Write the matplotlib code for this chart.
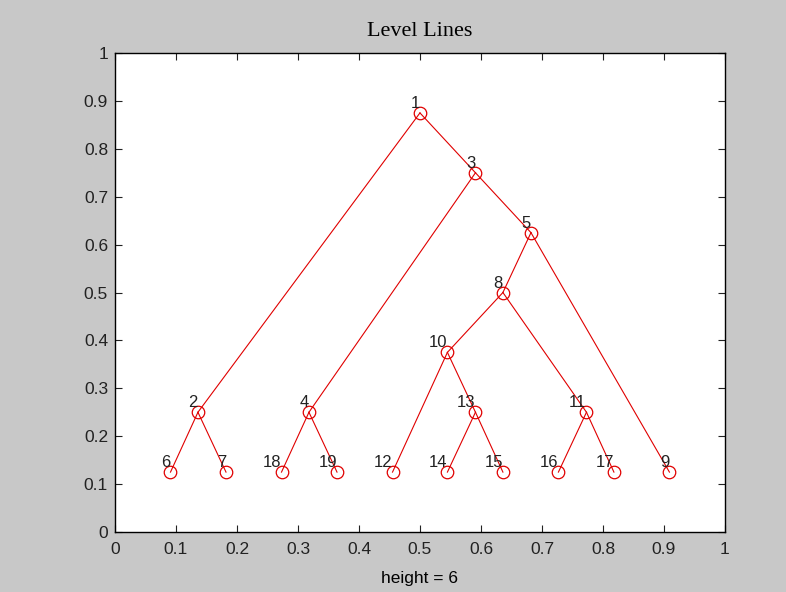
import numpy as np
import matplotlib.pyplot as plt

# tree: node number -> parent (0 = root)
parents = [0, 1, 1, 3, 3, 2, 2, 5, 5, 8, 8, 10, 10, 13, 13, 11, 11, 4, 4]
# node positions
xs = [0.500, 0.136, 0.591, 0.318, 0.682, 0.091, 0.182, 0.636, 0.909, 0.545,
      0.773, 0.455, 0.591, 0.545, 0.636, 0.727, 0.818, 0.273, 0.364]
ys = [0.875, 0.250, 0.750, 0.250, 0.625, 0.125, 0.125, 0.500, 0.125, 0.375,
      0.250, 0.125, 0.250, 0.125, 0.125, 0.125, 0.125, 0.125, 0.125]
height = 6

fig = plt.figure(figsize=(7.86, 5.92), dpi=100, facecolor='#c8c8c8')
ax = fig.add_axes([0.1463, 0.1014, 0.776, 0.809])

for i, p in enumerate(parents):
    if p > 0:
        ax.plot([xs[p - 1], xs[i]], [ys[p - 1], ys[i]], color='#e00000', lw=0.8)
ax.plot(xs, ys, 'o', ms=9, mfc='none', mec='#e00000', mew=0.9)

for i in range(len(xs)):
    ax.text(xs[i] + 0.0, ys[i] + 0.004, str(i + 1), ha='right', va='bottom',
            fontsize=12, family='Liberation Sans', color='#222222')

ax.set_xlim(0, 1)
ax.set_ylim(0, 1)
ax.set_xticks(np.arange(0, 1.01, 0.1))
ax.set_yticks(np.arange(0, 1.01, 0.1))
ax.set_xticklabels(['0', '0.1', '0.2', '0.3', '0.4', '0.5', '0.6', '0.7', '0.8', '0.9', '1'])
ax.set_yticklabels(['0', '0.1', '0.2', '0.3', '0.4', '0.5', '0.6', '0.7', '0.8', '0.9', '1'])
ax.tick_params(direction='in', top=True, right=True, length=5, labelsize=12.5,
               pad=5, colors='#222222')
ax.tick_params(axis='x', pad=7)
for lab in ax.get_xticklabels() + ax.get_yticklabels():
    lab.set_family('Liberation Sans')
for s in ax.spines.values():
    s.set_linewidth(1.0)

ax.set_title('Level Lines', family='Liberation Serif', fontsize=16, pad=12)
ax.set_xlabel('height = %d' % height, family='Liberation Sans', fontsize=12.5, labelpad=10)

fig.savefig('out.png', dpi=100, facecolor=fig.get_facecolor())
